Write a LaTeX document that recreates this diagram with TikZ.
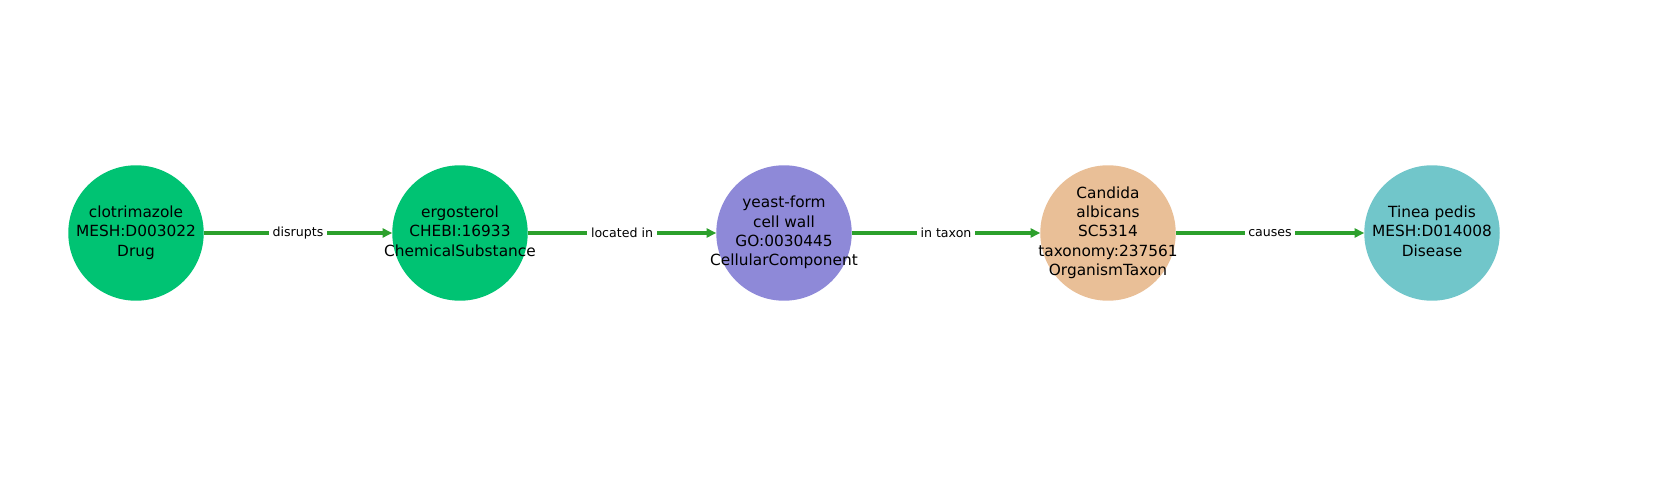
\documentclass[tikz,border=0pt]{standalone}
\usepackage{fontspec}
\setmainfont{DejaVu Sans}
\usepackage{xcolor}
\usetikzlibrary{positioning, arrows.meta}
\definecolor{drugGreen}{HTML}{00C373}
\definecolor{cellPurple}{HTML}{8E89D8}
\definecolor{taxonTan}{HTML}{E9BF97}
\definecolor{diseaseTeal}{HTML}{71C6CA}
\definecolor{edgeGreen}{HTML}{2CA02C}
\newcommand{\entitytext}[1]{\makebox[0pt]{\begin{tabular}{@{}c@{}}#1\end{tabular}}}
\tikzset{
    entity/.style={circle, minimum size=97.9pt, inner sep=0pt, outer sep=0pt, font=\fontsize{11.1}{14}\selectfont}, % nodes of the graph
    link/.style={-{Triangle[length=7pt, width=6.5pt]}, line width=2.2pt, draw=edgeGreen}, % edges
    rel/.style={fill=white, inner sep=2.6pt, font=\fontsize{9.1}{11}\selectfont, text=black}, % edge labels
}

\begin{document}
\begin{tikzpicture}[node distance=3.24in, on grid]
    \useasboundingbox (0,0) rectangle (16.8in,5in);
    % Nodi
    \node[entity, fill=drugGreen] (drug) at (1.36in,2.67in) {\entitytext{clotrimazole\\MESH:D003022\\Drug}};
    \node[entity, fill=drugGreen] (chem) [right=of drug] {\entitytext{ergosterol\\CHEBI:16933\\ChemicalSubstance}};
    \node[entity, fill=cellPurple] (wall) [right=of chem] {\entitytext{yeast-form\\cell wall\\GO:0030445\\CellularComponent}};
    \node[entity, fill=taxonTan] (taxon) [right=of wall] {\entitytext{Candida\\albicans\\SC5314\\taxonomy:237561\\OrganismTaxon}};
    \node[entity, fill=diseaseTeal] (disease) [right=of taxon] {\entitytext{Tinea pedis\\MESH:D014008\\Disease}};

    % Relazioni
    \draw[link] (drug) -- node[rel] {disrupts} (chem);
    \draw[link] (chem) -- node[rel] {located in} (wall);
    \draw[link] (wall) -- node[rel] {in taxon} (taxon);
    \draw[link] (taxon) -- node[rel] {causes} (disease);
\end{tikzpicture}
\end{document}
